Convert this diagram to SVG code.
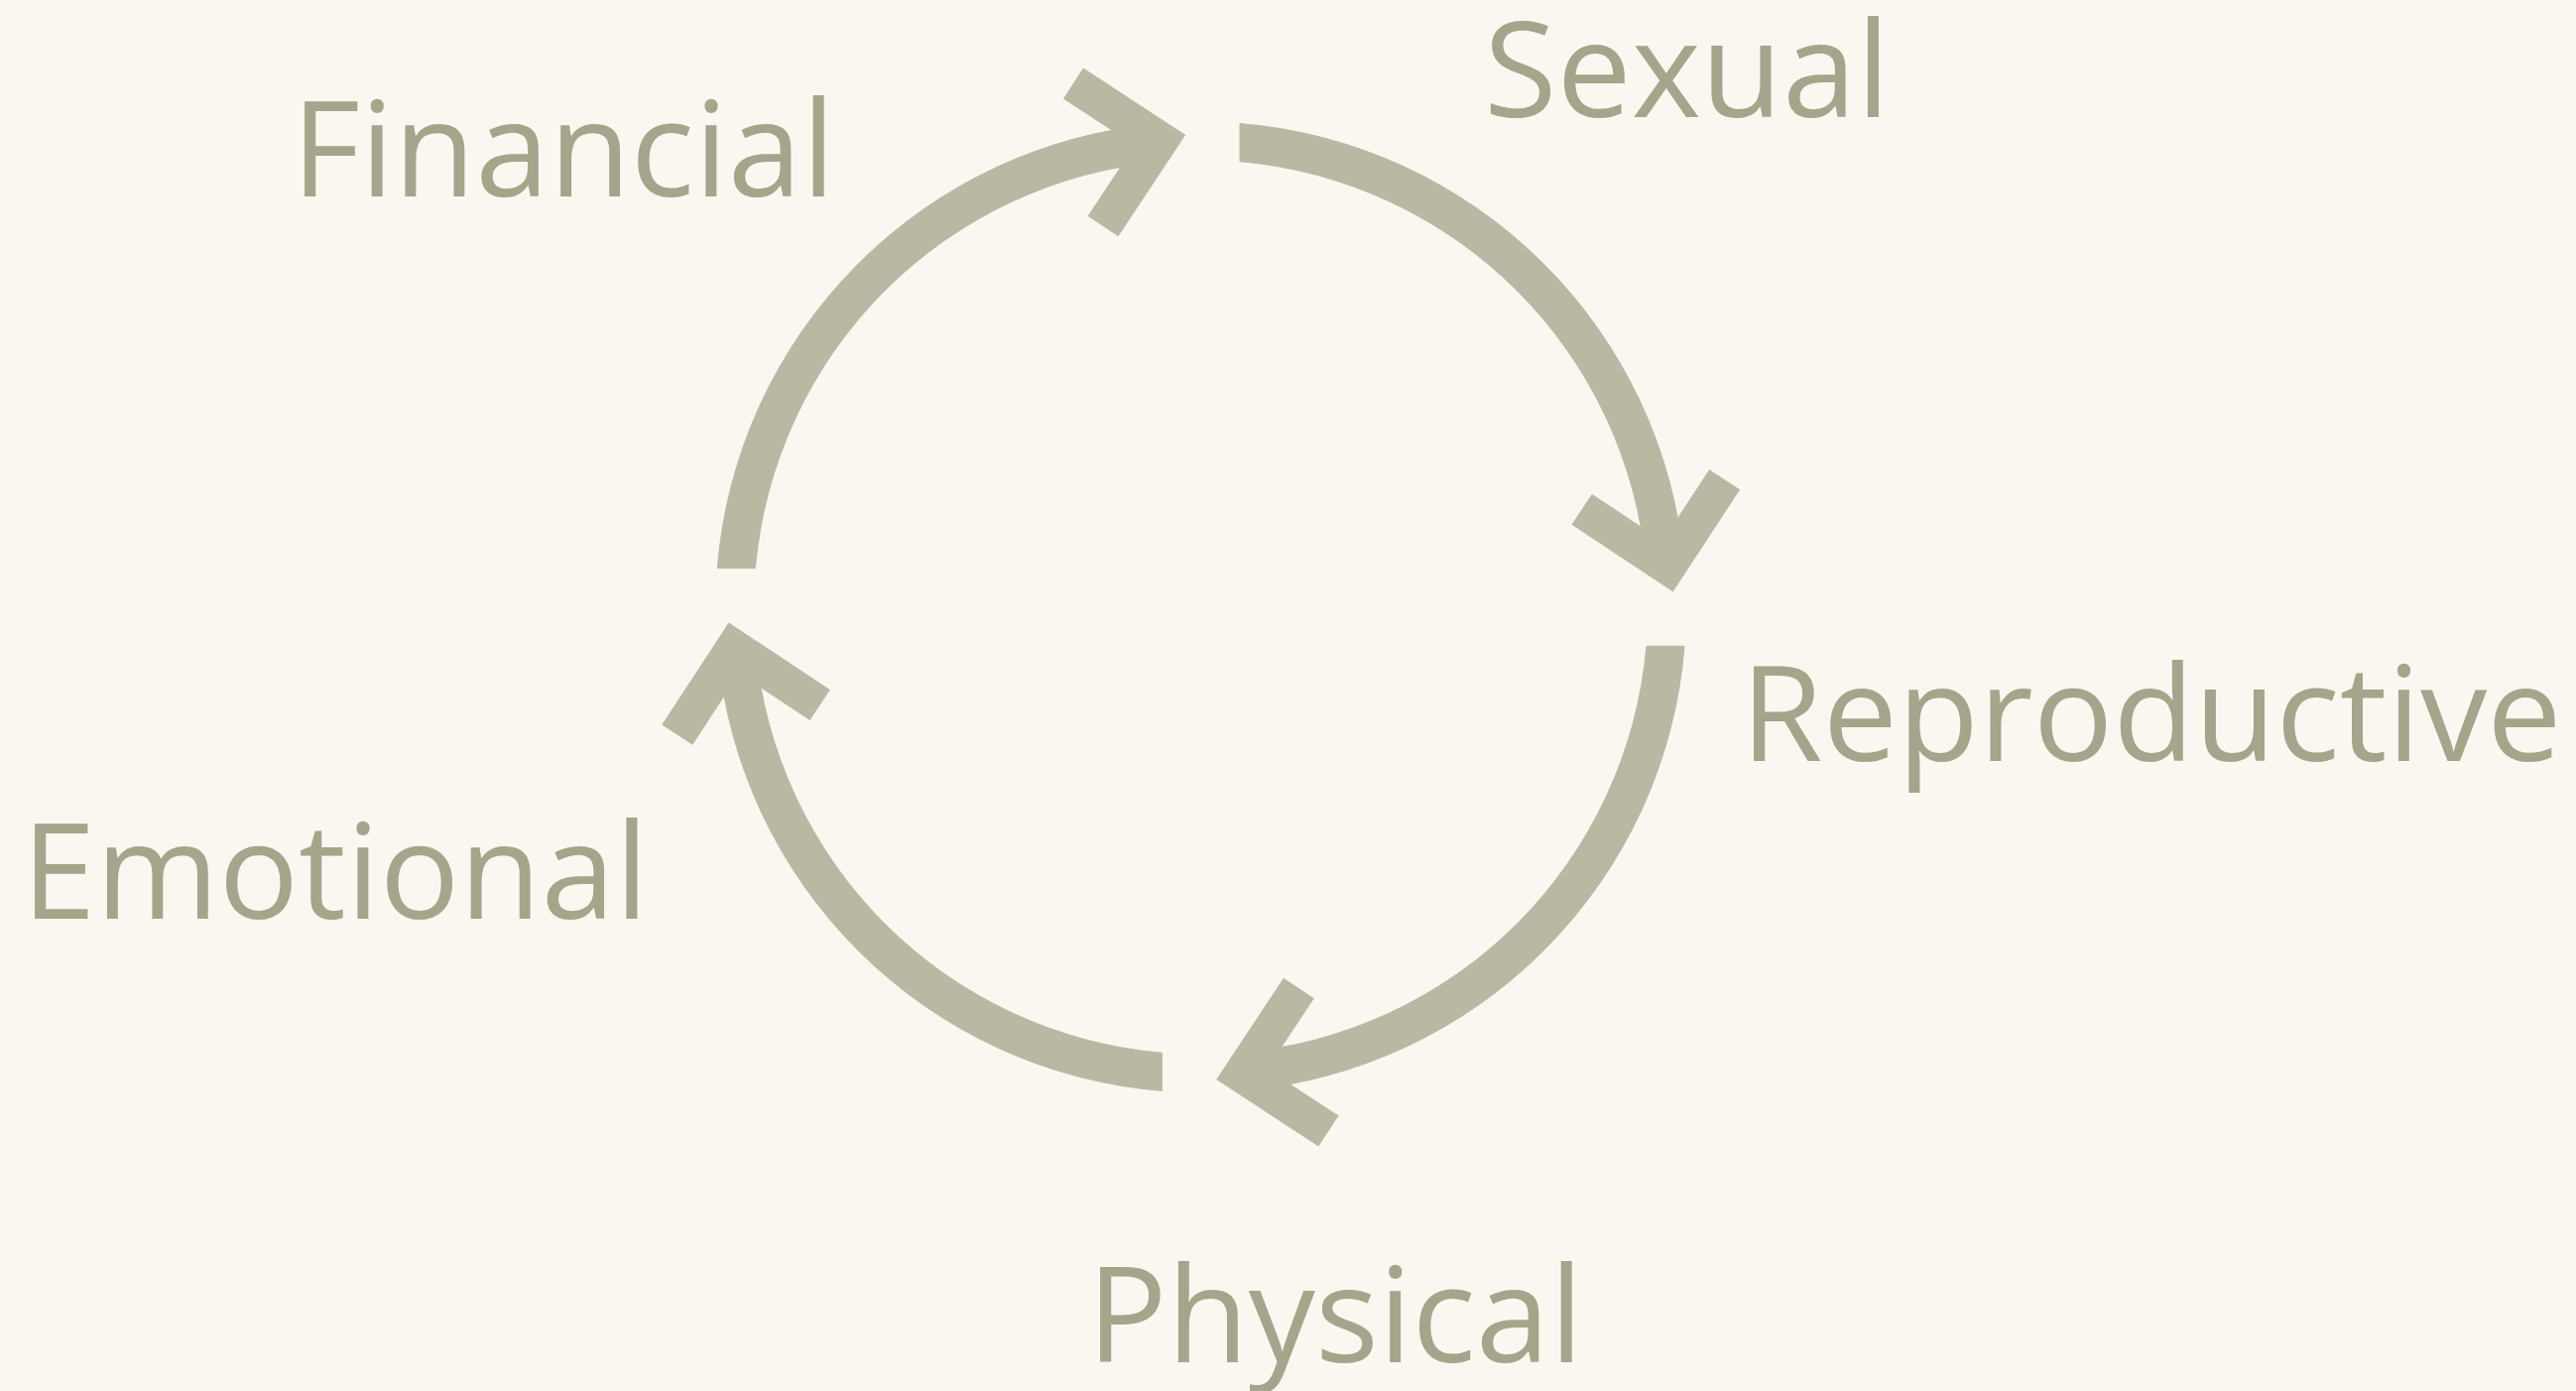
<svg xmlns="http://www.w3.org/2000/svg" width="2597" height="1402" viewBox="0 0 2597 1402">
  <style>
    .lbl { font-family: "Open Sans", "Noto Sans", "Liberation Sans", sans-serif; font-size: 134px; fill: #A5A58B; }
    .arc { fill: #B9B8A3; stroke: #B9B8A3; stroke-width: 1; stroke-linejoin: round; }
    .head { fill: none; stroke: #B9B8A3; stroke-width: 37; stroke-linecap: butt; stroke-linejoin: miter; stroke-miterlimit: 10; }
  </style>
  <rect x="0" y="0" width="2597" height="1402" fill="#F9F7EF"/>
  <g id="connectors">
    <g id="arrow-financial-sexual">
      <path class="arc" d="M 723.3 572.7 A 489 489 0 0 1 1168.1 124.9 L 1171.4 162.7 A 451 451 0 0 0 761.4 572.7 Z"/>
      <path class="head" d="M 1082 84 L 1169.5 141.3 L 1112 228"/>
    </g>
    <g id="arrow-sexual-reproductive">
      <path class="arc" d="M 1250 124.6 A 489 489 0 0 1 1697.8 569.4 L 1660 572.7 A 451 451 0 0 0 1250 162.7 Z"/>
      <path class="head" d="M 1738.7 483.3 L 1681.4 570.8 L 1594.7 513.3"/>
    </g>
    <g id="arrow-reproductive-physical">
      <path class="arc" d="M 1698.1 651.3 A 489 489 0 0 1 1253.3 1099.1 L 1250 1061.3 A 451 451 0 0 0 1660 651.3 Z"/>
      <path class="head" d="M 1339.4 1140 L 1251.9 1082.7 L 1309.4 996"/>
    </g>
    <g id="arrow-physical-emotional">
      <path class="arc" d="M 1171.4 1099.4 A 489 489 0 0 1 723.6 654.6 L 761.4 651.3 A 451 451 0 0 0 1171.4 1061.3 Z"/>
      <path class="head" d="M 682.7 740.7 L 740 653.2 L 826.7 710.7"/>
    </g>
  </g>
  <g id="node-financial"><text class="lbl" x="294" y="198">Financial</text></g>
  <g id="node-sexual"><text class="lbl" x="1496" y="118">Sexual</text></g>
  <g id="node-reproductive"><text class="lbl" x="1755" y="767">Reproductive</text></g>
  <g id="node-emotional"><text class="lbl" x="22" y="926">Emotional</text></g>
  <g id="node-physical"><text class="lbl" x="1096" y="1373">Physical</text></g>
</svg>
